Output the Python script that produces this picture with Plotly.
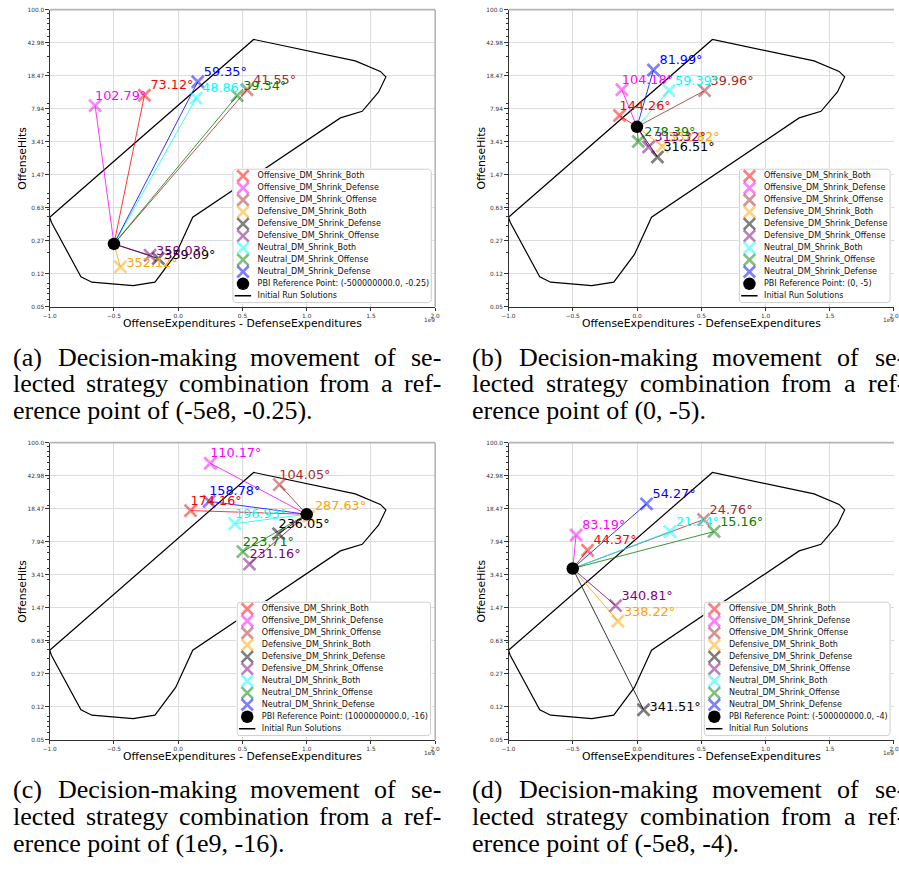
import numpy as np
import plotly.graph_objects as go

W, H = 899, 871

# ---------------- data ----------------
strategies = [
    "Offensive_DM_Shrink_Both", "Offensive_DM_Shrink_Defense", "Offensive_DM_Shrink_Offense",
    "Defensive_DM_Shrink_Both", "Defensive_DM_Shrink_Defense", "Defensive_DM_Shrink_Offense",
    "Neutral_DM_Shrink_Both", "Neutral_DM_Shrink_Offense", "Neutral_DM_Shrink_Defense",
]

# (a) reference (-5e8, -0.25)
ref_a = (-500000000.0, -0.25)
exp_a = [-0.263e9, -0.647e9, 0.536e9, -0.450e9, -0.155e9, -0.219e9, 0.139e9, 0.459e9, 0.152e9]
hits_a = [11.2, 8.6, 12.9, 0.139, 0.172, 0.187, 10.4, 11.1, 15.8]
ang_a = [73.12, 102.79, 41.55, 352.12, 359.09, 359.03, 48.86, 39.34, 59.35]

# (b) reference (0, -5)
ref_b = (0, -5)
exp_b = [-0.136e9, -0.118e9, 0.526e9, 0.197e9, 0.159e9, 0.090e9, 0.249e9, 0.010e9, 0.128e9]
hits_b = [6.67, 12.9, 12.6, 3.03, 2.31, 2.98, 12.6, 3.44, 21.4]
ang_b = [144.26, 104.18, 39.96, 332.82, 316.51, 313.32, 59.39, 278.39, 81.99]

# (c) reference (1e9, -16)
ref_c = (1000000000.0, -16)
exp_c = [0.096e9, 0.249e9, 0.787e9, 1.017e9, 0.781e9, 0.554e9, 0.441e9, 0.503e9, 0.241e9]
hits_c = [17.6, 59.1, 34.2, 15.2, 9.75, 4.48, 12.6, 6.16, 22.3]
ang_c = [174.16, 110.17, 104.05, 287.63, 236.05, 231.16, 196.93, 223.71, 158.78]

# (d) reference (-5e8, -4)
ref_d = (-500000000.0, -4)
exp_d = [-0.385e9, -0.474e9, 0.518e9, -0.149e9, 0.051e9, -0.167e9, 0.256e9, 0.600e9, 0.074e9]
hits_d = [6.38, 9.42, 14.0, 1.04, 0.108, 1.55, 10.3, 10.3, 20.9]
ang_d = [44.37, 83.19, 24.76, 338.22, 341.51, 340.81, 21.24, 15.16, 54.27]

# Initial run solutions (outline)
init_exp = [-1.0e9, 0.587e9, 1.378e9, 1.573e9, 1.616e9, 1.560e9, 1.432e9, 1.262e9,
            0.113e9, -0.020e9, -0.181e9, -0.352e9, -0.672e9, -0.757e9, -0.987e9, -1.0e9]
init_hits = [0.495, 46.7, 27.0, 20.6, 17.9, 12.2, 7.43, 6.28,
             0.495, 0.191, 0.094, 0.086, 0.094, 0.108, 0.435, 0.495]

xtick_vals = [-1e9, -0.5e9, 0.0, 0.5e9, 1e9, 1.5e9, 2e9]
xtick_text = ["\u22121.0", "\u22120.5", "0.0", "0.5", "1.0", "1.5", "2.0"]
ytick_text = ["0.05", "0.12", "0.27", "0.63", "1.47", "3.41", "7.94", "18.47", "42.98", "100.0"]

captions = [
    ["(a) Decision-making movement of se-", "lected strategy combination from a ref-",
     "erence point of (-5e8, -0.25)."],
    ["(b) Decision-making movement of se-", "lected strategy combination from a ref-",
     "erence point of (0, -5)."],
    ["(c) Decision-making movement of se-", "lected strategy combination from a ref-",
     "erence point of (1e9, -16)."],
    ["(d) Decision-making movement of se-", "lected strategy combination from a ref-",
     "erence point of (-5e8, -4)."],
]

# ---------------- styles ----------------
line_colors = ["#ff0000", "#ff00ff", "#a52a2a", "#ffa500", "#000000",
               "#800080", "#00ffff", "#008000", "#0000ff"]


def rgba(h, a):
    h = h.lstrip('#')
    return f"rgba({int(h[0:2], 16)},{int(h[2:4], 16)},{int(h[4:6], 16)},{a})"


marker_colors = [rgba(c, 0.5) for c in line_colors]
SANS = "DejaVu Sans"
SERIF = "Liberation Serif"

ytick_vals = list(np.geomspace(0.05, 100, len(ytick_text)))
minor_vals = [m * 10.0 ** k for k in range(-2, 2) for m in range(2, 10)
              if 0.05 <= m * 10.0 ** k <= 100]

panels = [
    dict(ref=ref_a, xs=exp_a, ys=hits_a, ang=ang_a, box=(43.3, 434.0, 6.7, 306.0),
         xfull=434.0, leg=(229.0, 430.0, 167.3, 301.7), cap_col=(6.5, 440.0), cap_y=(357, 383.5, 410)),
    dict(ref=ref_b, xs=exp_b, ys=hits_b, ang=ang_b, box=(508.3, 899.0, 6.7, 306.0),
         xfull=899.3, leg=(742.3, 895.0, 167.3, 301.7), cap_col=(471.5, 910.0), cap_y=(357, 383.5, 410)),
    dict(ref=ref_c, xs=exp_c, ys=hits_c, ang=ang_c, box=(43.3, 434.0, 442.7, 742.0),
         xfull=434.0, leg=(233.3, 429.3, 603.3, 737.7), cap_col=(6.5, 440.0), cap_y=(792, 819, 846)),
    dict(ref=ref_d, xs=exp_d, ys=hits_d, ang=ang_d, box=(508.3, 899.0, 442.7, 742.0),
         xfull=899.3, leg=(706.7, 895.0, 603.3, 737.7), cap_col=(471.5, 910.0), cap_y=(792, 819, 846)),
]

fig = go.Figure()
layout = {}
annotations = []
shapes = []


def aid(prefix, i):
    return prefix if i == 1 else f"{prefix}{i}"


def rounded_rect(w, h, r, n=7):
    pts = []
    corners = [(w - r, h - r, 0, 90), (r, h - r, 90, 180), (r, r, 180, 270), (w - r, r, 270, 360)]
    for cx, cy, a0, a1 in corners:
        for t in np.linspace(np.radians(a0), np.radians(a1), n):
            pts.append((cx + r * np.cos(t), cy + r * np.sin(t)))
    pts.append(pts[0])
    return [q[0] for q in pts], [q[1] for q in pts]


# Times-like advance widths (per 1000 em) for justified captions
TW = {' ': 250, '(': 333, ')': 333, '-': 333, ',': 250, '.': 250, 'a': 444, 'b': 500, 'c': 444,
      'd': 500, 'e': 444, 'f': 333, 'g': 500, 'h': 500, 'i': 278, 'k': 500, 'l': 278, 'm': 778,
      'n': 500, 'o': 500, 'p': 500, 'r': 333, 's': 389, 't': 278, 'u': 500, 'v': 500, 'y': 500,
      'D': 722}
CAP_SIZE = 26


def tw(s):
    return sum(TW.get(ch, 500) for ch in s) / 1000.0 * CAP_SIZE


for k, p in enumerate(panels):
    i = k + 1
    xa, ya = aid('x', i), aid('y', i)
    x0, x1, y0, y1 = p['box']
    rx, ry = p['ref'][0], -p['ref'][1]

    # outline of initial run solutions
    fig.add_trace(go.Scatter(x=init_exp, y=init_hits, mode='lines',
                             line=dict(color='black', width=1.2), xaxis=xa, yaxis=ya,
                             showlegend=False, hoverinfo='skip'))
    # movement lines
    for j in range(len(strategies)):
        fig.add_trace(go.Scatter(x=[rx, p['xs'][j]], y=[ry, p['ys'][j]], mode='lines',
                                 line=dict(color=line_colors[j], width=0.8),
                                 xaxis=xa, yaxis=ya, showlegend=False, hoverinfo='skip'))
    # strategy markers
    fig.add_trace(go.Scatter(x=p['xs'], y=p['ys'], mode='markers',
                             marker=dict(symbol='x-thin', size=12, color=marker_colors,
                                         line=dict(color=marker_colors, width=2.7)),
                             xaxis=xa, yaxis=ya, showlegend=False, hoverinfo='skip'))
    # reference point
    fig.add_trace(go.Scatter(x=[rx], y=[ry], mode='markers',
                             marker=dict(symbol='circle', size=12.5, color='black'),
                             xaxis=xa, yaxis=ya, showlegend=False, hoverinfo='skip'))
    # angle labels
    lx = [x + (0.047e9 if np.cos(np.radians(a)) > 0 else 0.0) for x, a in zip(p['xs'], p['ang'])]
    ly = [y * (1 + 0.26 * min(1.0, (y / 1.2) ** 0.6)) for y in p['ys']]
    fig.add_trace(go.Scatter(x=lx, y=ly, mode='text', text=[f"{a:.2f}\u00b0" for a in p['ang']],
                             textposition='middle right',
                             textfont=dict(family=SANS, size=12.8, color=line_colors),
                             xaxis=xa, yaxis=ya, showlegend=False, hoverinfo='skip'))

    layout['xaxis' if i == 1 else f'xaxis{i}'] = dict(
        domain=[x0 / W, x1 / W], range=[-1e9, 2e9], anchor=ya,
        tickmode='array', tickvals=xtick_vals, ticktext=xtick_text,
        ticks='outside', ticklen=3.5, tickwidth=0.8, tickcolor='#333',
        tickfont=dict(family=SANS, size=5.8, color='#333'),
        showgrid=True, gridcolor='#dcdcdc', gridwidth=1, zeroline=False,
        showline=True, linecolor='#333', linewidth=0.9, fixedrange=True)
    layout['yaxis' if i == 1 else f'yaxis{i}'] = dict(
        domain=[1 - y1 / H, 1 - y0 / H], type='log', range=[np.log10(0.05), 2], anchor=xa,
        tickmode='array', tickvals=ytick_vals, ticktext=ytick_text,
        ticks='outside', ticklen=3.5, tickwidth=0.8, tickcolor='#333',
        tickfont=dict(family=SANS, size=5.8, color='#333'),
        minor=dict(tickmode='array', tickvals=minor_vals, ticks='outside', ticklen=2,
                   tickwidth=0.6, tickcolor='#333', showgrid=False),
        showgrid=True, gridcolor='#dcdcdc', gridwidth=1, zeroline=False,
        showline=True, linecolor='#333', linewidth=0.9, fixedrange=True)

    # top / right spines (light)
    shapes.append(dict(type='line', xref='paper', yref='paper', x0=x0 / W, x1=x1 / W,
                       y0=1 - y0 / H, y1=1 - y0 / H, line=dict(color='#b4b4b4', width=1.6)))
    if p['xfull'] < W:
        shapes.append(dict(type='line', xref='paper', yref='paper', x0=x1 / W, x1=x1 / W,
                           y0=1 - y0 / H, y1=1 - y1 / H, line=dict(color='#b4b4b4', width=1.6)))

    # axis titles and offset text
    xc = (x0 + p['xfull']) / 2
    annotations.append(dict(text="OffenseExpenditures - DefenseExpenditures", xref='paper', yref='paper',
                            x=xc / W, y=1 - (y1 + 16.3) / H, xanchor='center', yanchor='middle',
                            showarrow=False, font=dict(family=SANS, size=10.8, color='black')))
    annotations.append(dict(text="OffenseHits", xref='paper', yref='paper', textangle=-90,
                            x=(x0 - 27.6) / W, y=1 - ((y0 + y1) / 2) / H, xanchor='center',
                            yanchor='middle', showarrow=False,
                            font=dict(family=SANS, size=10.8, color='black')))
    annotations.append(dict(text="1e9", xref='paper', yref='paper',
                            x=(p['xfull'] - 5.5) / W, y=1 - (y1 + 13.3) / H, xanchor='center',
                            yanchor='middle', showarrow=False,
                            font=dict(family=SANS, size=5.8, color='#333')))

    # ---------- legend drawn on its own overlay axes ----------
    li = i + 4
    lxa, lya = f'x{li}', f'y{li}'
    bx0, bx1, by0, by1 = p['leg']
    bw, bh = bx1 - bx0, by1 - by0
    layout[f'xaxis{li}'] = dict(domain=[(bx0 - 1) / W, (bx1 + 1) / W], range=[-1, bw + 1],
                                anchor=lya, visible=False, fixedrange=True)
    layout[f'yaxis{li}'] = dict(domain=[1 - (by1 + 1) / H, 1 - (by0 - 1) / H], range=[-1, bh + 1],
                                anchor=lxa, visible=False, fixedrange=True)
    rxs, rys = rounded_rect(bw, bh, 3.0)
    fig.add_trace(go.Scatter(x=rxs, y=rys, mode='lines', fill='toself',
                             fillcolor='rgba(255,255,255,0.82)', line=dict(color='#cccccc', width=1),
                             xaxis=lxa, yaxis=lya, showlegend=False, hoverinfo='skip'))
    step = (bh - 2 * 6.9) / 10
    item_y = [bh - 6.9 - step * n for n in range(11)]
    fig.add_trace(go.Scatter(x=[10.2] * 9, y=item_y[:9], mode='markers',
                             marker=dict(symbol='x-thin', size=11.5, color=marker_colors,
                                         line=dict(color=marker_colors, width=2.7)),
                             xaxis=lxa, yaxis=lya, showlegend=False, hoverinfo='skip'))
    fig.add_trace(go.Scatter(x=[10.2], y=[item_y[9]], mode='markers',
                             marker=dict(symbol='circle', size=12.5, color='black'),
                             xaxis=lxa, yaxis=lya, showlegend=False, hoverinfo='skip'))
    fig.add_trace(go.Scatter(x=[1.8, 18.4], y=[item_y[10], item_y[10]], mode='lines',
                             line=dict(color='black', width=1.3),
                             xaxis=lxa, yaxis=lya, showlegend=False, hoverinfo='skip'))
    ref_label = f"PBI Reference Point: ({p['ref'][0]}, {p['ref'][1]})"
    leg_text = strategies + [ref_label, "Initial Run Solutions"]
    fig.add_trace(go.Scatter(x=[25.0] * 11, y=item_y, mode='text', text=leg_text,
                             textposition='middle right',
                             textfont=dict(family=SANS, size=8.0, color='#111'),
                             xaxis=lxa, yaxis=lya, showlegend=False, hoverinfo='skip'))

    # ---------- caption (justified like LaTeX) ----------
    cl, cr = p['cap_col']
    lines = captions[k]
    for n_line, line in enumerate(lines):
        yy = 1 - p['cap_y'][n_line] / H
        if n_line < 2:
            words = line.split(' ')
            widths = [tw(w) for w in words]
            gap = (cr - cl - sum(widths)) / (len(words) - 1)
            xpos = cl
            for w, wd in zip(words, widths):
                annotations.append(dict(text=w, xref='paper', yref='paper', x=xpos / W, y=yy,
                                        xanchor='left', yanchor='middle', showarrow=False,
                                        borderpad=0, borderwidth=0,
                                        font=dict(family=SERIF, size=CAP_SIZE, color='black')))
                xpos += wd + gap
        else:
            annotations.append(dict(text=line, xref='paper', yref='paper', x=cl / W, y=yy,
                                    xanchor='left', yanchor='middle', showarrow=False,
                                    borderpad=0, borderwidth=0,
                                    font=dict(family=SERIF, size=CAP_SIZE, color='black')))

fig.update_layout(width=W, height=H, margin=dict(l=0, r=0, t=0, b=0),
                  paper_bgcolor='white', plot_bgcolor='white', showlegend=False,
                  annotations=annotations, shapes=shapes, **layout)

fig.write_html("out.html", config={"displayModeBar": False},
               post_script="document.body.style.margin='0';")
